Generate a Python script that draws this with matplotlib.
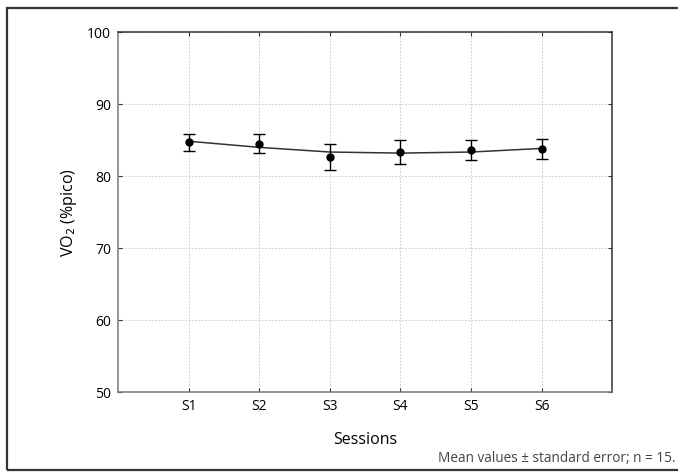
import matplotlib.pyplot as plt
from matplotlib.patches import Rectangle

# dati
sessioni = ['S1', 'S2', 'S3', 'S4', 'S5', 'S6']
medie = [84.7, 84.5, 82.6, 83.4, 83.6, 83.8]
errori = [1.15, 1.35, 1.8, 1.65, 1.4, 1.35]
# curva di tendenza letta in corrispondenza di ogni sessione
curva = [84.85, 84.0, 83.35, 83.2, 83.35, 83.85]

plt.rcParams['font.family'] = ['Open Sans', 'DejaVu Sans']

fig = plt.figure(figsize=(6.78, 4.73), dpi=100)
ax = fig.add_axes([0.174, 0.171, 0.729, 0.761])

# cornice esterna
fig.patches.append(Rectangle((7 / 678, 3 / 473), 1.0, 462 / 473, transform=fig.transFigure,
                             fill=False, edgecolor='#333333', linewidth=1.6))

x = list(range(1, len(sessioni) + 1))
ax.plot(x, curva, color='#333333', linewidth=1.1, zorder=2)
ax.errorbar(x, medie, yerr=errori, fmt='o', color='black', markersize=5,
            capsize=4, elinewidth=1, capthick=1, zorder=3)

ax.set_xlim(0, 7)
ax.set_ylim(50, 100)
ax.set_xticks(x)
ax.set_xticklabels(sessioni)
ax.set_yticks([50, 60, 70, 80, 90, 100])
ax.tick_params(direction='in', length=3, labelsize=10, top=True, right=True,
               labeltop=False, labelright=False, pad=5, color='#333333')
ax.grid(True, linestyle=(0, (2, 2)), color='#c4c4c4', linewidth=0.6)
for lato in ['left', 'bottom']:
    ax.spines[lato].set_color('#777777')
for lato in ['top', 'right']:
    ax.spines[lato].set_color('#333333')
for lato in ax.spines:
    ax.spines[lato].set_linewidth(1.1)

ax.set_ylabel('VO$_2$ (%pico)', fontsize=11.5, labelpad=6)
ax.set_xlabel('Sessions', fontsize=11.5, labelpad=13)
fig.text(0.996, 0.03, 'Mean values \u00b1 standard error; n = 15.', ha='right', va='center',
         fontsize=9.8, color='#444444')

plt.savefig('out.png', dpi=100)
